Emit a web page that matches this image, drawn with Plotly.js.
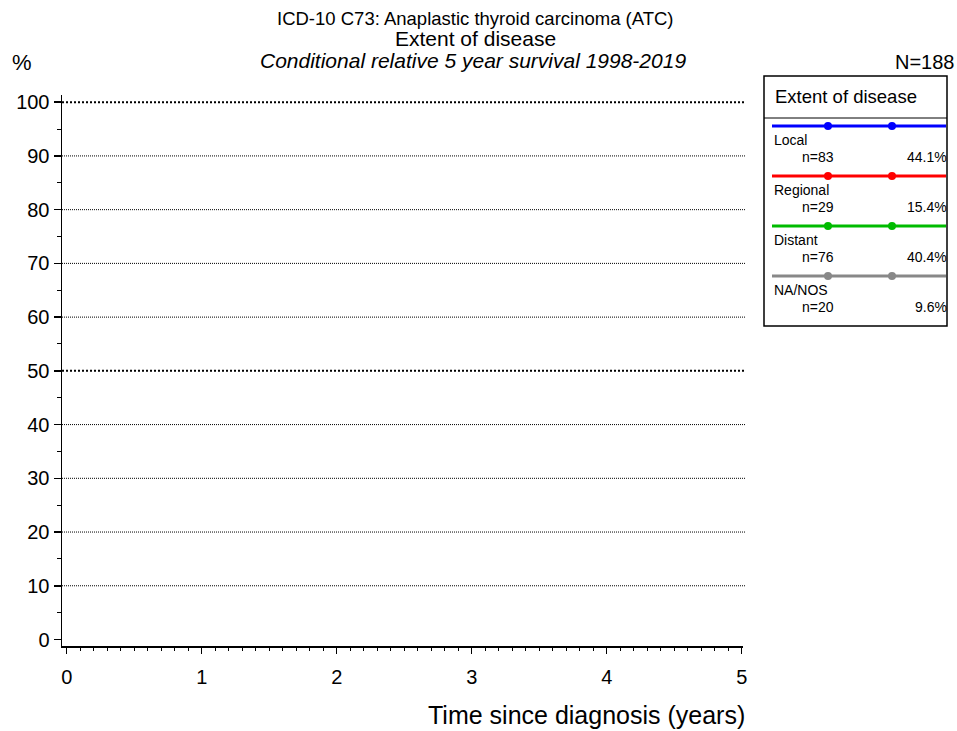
<!DOCTYPE html>
<html>
<head>
<meta charset="utf-8">
<script src="https://cdn.plot.ly/plotly-3.0.1.min.js"></script>
<style>html,body{margin:0;padding:0;background:#fff;}#chart{width:957px;height:731px;}</style>
</head>
<body>
<div id="chart"></div>
<script>
// ---- data ----
var groups = ['Local', 'Regional', 'Distant', 'NA/NOS'];
var counts = [83, 29, 76, 20];
var shares = [44.1, 15.4, 40.4, 9.6];
var groupColors = ['#0000ff', '#ff0000', '#00bb00', '#888888'];
var totalN = 188;
var yTicks = [0, 10, 20, 30, 40, 50, 60, 70, 80, 90, 100];
var gridThin = [10, 20, 30, 40, 60, 70, 80, 90];
var gridThick = [50, 100];
var xTicks = [0, 1, 2, 3, 4, 5];
var titleLines = ['ICD-10 C73: Anaplastic thyroid carcinoma (ATC)', 'Extent of disease', 'Conditional relative 5 year survival 1998-2019'];
var legendTitle = 'Extent of disease';
var xTitle = 'Time since diagnosis (years)';

// ---- layout geometry (pixels) ----
var W = 957, H = 731;
var L = 62, R = 743, T = 95, B = 646;
function px(x) { return (x - L) / (R - L); }
function py(y) { return (B - y) / (B - T); }
var FONT = 'Liberation Sans, Arial, sans-serif';

var traces = groups.map(function (g, i) {
  return { type: 'scatter', mode: 'lines+markers', name: g, x: [], y: [],
    line: { color: groupColors[i], width: 3 }, marker: { color: groupColors[i], size: 8 }, showlegend: false };
});

var shapes = [];
var annotations = [];

gridThin.forEach(function (v) {
  shapes.push({ type: 'line', xref: 'paper', yref: 'y', x0: 0, x1: px(745), y0: v, y1: v,
    line: { color: '#000', width: 1, dash: '1px,1px' }, layer: 'below' });
});
gridThick.forEach(function (v) {
  shapes.push({ type: 'line', xref: 'paper', yref: 'y', x0: 0, x1: px(745), y0: v, y1: v,
    line: { color: '#000', width: 2, dash: '2px,2px' }, layer: 'below' });
});

// titles
var titleY = [18, 38, 60], titleSize = [18.5, 21, 21], titleX = [476, 476, 473];
titleLines.forEach(function (t, i) {
  annotations.push({ xref: 'paper', yref: 'paper', x: px(titleX[i]), y: py(titleY[i]), xanchor: 'center', yanchor: 'middle',
    text: i === 2 ? '<i>' + t + '</i>' : t, showarrow: false, font: { family: FONT, size: titleSize[i], color: '#000' } });
});
annotations.push({ xref: 'paper', yref: 'paper', x: px(10), y: py(63), xanchor: 'left', yanchor: 'middle',
  text: '%', showarrow: false, font: { family: FONT, size: 22, color: '#000' } });
annotations.push({ xref: 'paper', yref: 'paper', x: px(957), y: py(62), xanchor: 'right', yanchor: 'middle',
  text: 'N=' + totalN, showarrow: false, font: { family: FONT, size: 20, color: '#000' } });
annotations.push({ xref: 'paper', yref: 'paper', x: px(747), y: py(715), xanchor: 'right', yanchor: 'middle',
  text: xTitle, showarrow: false, font: { family: FONT, size: 25, color: '#000' } });

// legend box
var bx0 = 764, bx1 = 947, by0 = 76, by1 = 326;
shapes.push({ type: 'rect', xref: 'paper', yref: 'paper', x0: px(bx0), x1: px(bx1), y0: py(by0), y1: py(by1),
  line: { color: '#000', width: 1.5 }, fillcolor: 'rgba(0,0,0,0)' });
shapes.push({ type: 'line', xref: 'paper', yref: 'paper', x0: px(bx0), x1: px(bx1), y0: py(118), y1: py(118),
  line: { color: '#000', width: 1 } });
annotations.push({ xref: 'paper', yref: 'paper', x: px(773), y: py(96), xanchor: 'left', yanchor: 'middle',
  text: legendTitle, showarrow: false, font: { family: FONT, size: 18.5, color: '#000' } });

groups.forEach(function (g, i) {
  var ly = 126 + 50 * i;
  shapes.push({ type: 'line', xref: 'paper', yref: 'paper', x0: px(772), x1: px(946), y0: py(ly), y1: py(ly),
    line: { color: groupColors[i], width: 3 } });
  [828, 892].forEach(function (mx) {
    shapes.push({ type: 'circle', xref: 'paper', yref: 'paper', x0: px(mx - 4), x1: px(mx + 4), y0: py(ly - 4), y1: py(ly + 4),
      line: { color: groupColors[i], width: 0 }, fillcolor: groupColors[i] });
  });
  annotations.push({ xref: 'paper', yref: 'paper', x: px(773), y: py(ly + 14), xanchor: 'left', yanchor: 'middle',
    text: g, showarrow: false, borderpad: 0, font: { family: FONT, size: 14, color: '#000' } });
  annotations.push({ xref: 'paper', yref: 'paper', x: px(801), y: py(ly + 30.5), xanchor: 'left', yanchor: 'middle',
    text: 'n=' + counts[i], showarrow: false, borderpad: 0, font: { family: FONT, size: 14, color: '#000' } });
  annotations.push({ xref: 'paper', yref: 'paper', x: px(948), y: py(ly + 30.5), xanchor: 'right', yanchor: 'middle',
    text: shares[i].toFixed(1) + '%', showarrow: false, borderpad: 0, font: { family: FONT, size: 14, color: '#000' } });
});

var layout = {
  width: W, height: H,
  margin: { l: L, r: W - R, t: T, b: H - B, pad: 0 },
  paper_bgcolor: '#fff', plot_bgcolor: '#fff',
  showlegend: false,
  font: { family: FONT, color: '#000' },
  xaxis: {
    range: [-4.7 / 135, (R - 66.7) / 135],
    tickvals: xTicks, ticktext: xTicks.map(String),
    showgrid: false, zeroline: false,
    showline: true, linecolor: '#000', linewidth: 1.5,
    ticks: 'outside', ticklen: 6, tickwidth: 1.5, tickcolor: '#000',
    ticklabelstandoff: 6,
    minor: { dtick: 0.1, tick0: 0, ticks: 'outside', ticklen: 3, tickwidth: 1, tickcolor: '#000', showgrid: false },
    tickfont: { family: FONT, size: 20, color: '#000' },
    fixedrange: true
  },
  yaxis: {
    range: [-1.21, 101.34],
    tickvals: yTicks, ticktext: yTicks.map(String),
    showgrid: false, zeroline: false,
    showline: true, linecolor: '#000', linewidth: 1.5,
    ticks: 'outside', ticklen: 7, tickwidth: 1.5, tickcolor: '#000',
    minor: { dtick: 5, tick0: 0, ticks: 'outside', ticklen: 4, tickwidth: 1, tickcolor: '#000', showgrid: false },
    tickfont: { family: FONT, size: 20, color: '#000' },
    fixedrange: true
  },
  shapes: shapes,
  annotations: annotations
};

Plotly.newPlot('chart', traces, layout, { displayModeBar: false, staticPlot: true });
</script>
</body>
</html>
